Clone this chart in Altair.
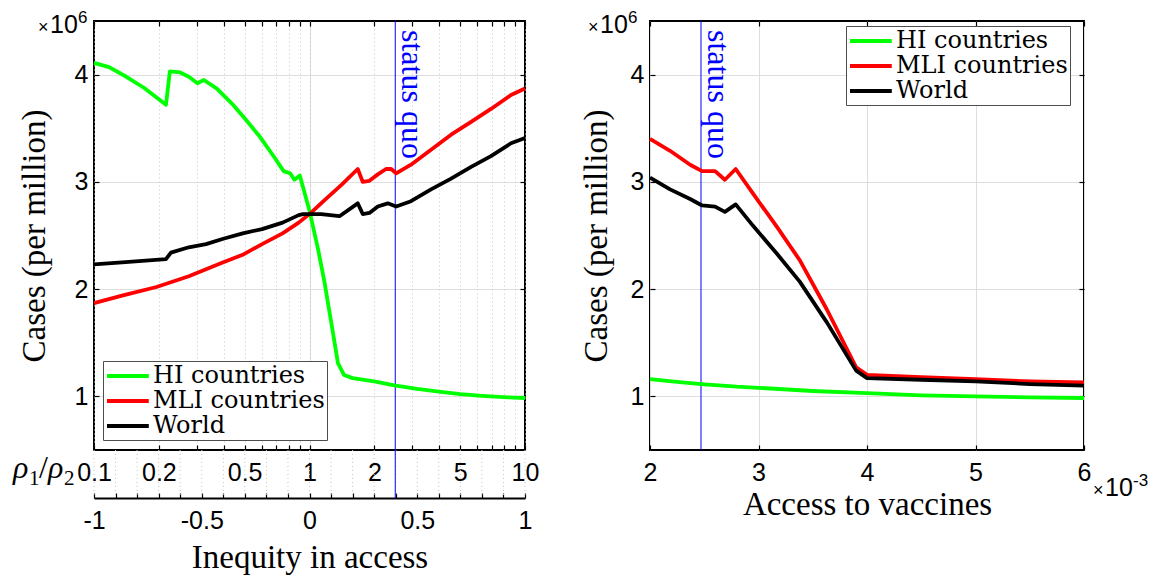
import math
import altair as alt
import pandas as pd

# ---------------- data ----------------
SERIES = ["HI countries", "MLI countries", "World"]
COLORS = ["#00ff00", "#ff0000", "#000000"]

# Left panel: x = inequity in access = log10(rho1/rho2); y = cases (x10^6 per million)
HI_INEQ = [-1.0, -0.93, -0.85, -0.77, -0.666, -0.648, -0.60, -0.56, -0.52, -0.49, -0.43, -0.36,
           -0.30, -0.23, -0.16, -0.12, -0.09, -0.07, -0.045, 0.0, 0.04, 0.07, 0.10, 0.132, 0.16,
           0.20, 0.30, 0.40, 0.50, 0.60, 0.70, 0.80, 0.90, 1.0]
HI_L = [4.11, 4.07, 3.98, 3.88, 3.72, 4.03, 4.02, 3.98, 3.92, 3.95, 3.87, 3.73,
        3.59, 3.42, 3.22, 3.10, 3.08, 3.02, 3.06, 2.73, 2.37, 2.06, 1.70, 1.31, 1.20,
        1.17, 1.14, 1.10, 1.07, 1.045, 1.02, 1.005, 0.993, 0.985]
MLI_INEQ = [-1.0, -0.87, -0.71, -0.56, -0.40, -0.31, -0.22, -0.125, -0.05, 0.0, 0.07, 0.147,
            0.224, 0.247, 0.278, 0.317, 0.355, 0.379, 0.402, 0.471, 0.564, 0.657, 0.75, 0.842,
            0.935, 1.0]
MLI_L = [1.87, 1.94, 2.02, 2.12, 2.25, 2.32, 2.42, 2.52, 2.62, 2.70, 2.83, 2.97,
         3.12, 3.00, 3.01, 3.07, 3.12, 3.12, 3.08, 3.16, 3.30, 3.44, 3.56, 3.68,
         3.81, 3.87]
WORLD_INEQ = [-1.0, -0.87, -0.666, -0.643, -0.56, -0.48, -0.40, -0.31, -0.22, -0.125, -0.05,
              -0.03, 0.054, 0.139, 0.224, 0.247, 0.278, 0.317, 0.363, 0.402, 0.471, 0.564,
              0.657, 0.75, 0.842, 0.935, 1.0]
WORLD_L = [2.23, 2.25, 2.28, 2.34, 2.39, 2.42, 2.47, 2.52, 2.56, 2.62, 2.69,
           2.70, 2.70, 2.68, 2.80, 2.70, 2.71, 2.77, 2.80, 2.77, 2.82, 2.93,
           3.03, 3.14, 3.24, 3.36, 3.41]

# Right panel: x = access to vaccines (x10^-3); y = cases (x10^6 per million)
HI_ACC = [2.0, 2.2, 2.47, 2.8, 3.0, 3.5, 4.0, 4.5, 5.0, 5.5, 6.0]
HI_R = [1.16, 1.14, 1.115, 1.09, 1.08, 1.05, 1.03, 1.01, 1.00, 0.99, 0.985]
MLI_ACC = [2.0, 2.185, 2.37, 2.48, 2.60, 2.69, 2.79, 2.95, 3.17, 3.38, 3.63, 3.90, 4.0,
           4.5, 5.0, 5.5, 6.0]
MLI_R = [3.40, 3.29, 3.16, 3.10, 3.10, 3.02, 3.12, 2.89, 2.58, 2.27, 1.81, 1.27, 1.20,
         1.18, 1.16, 1.14, 1.13]
WORLD_ACC = [2.0, 2.185, 2.37, 2.48, 2.60, 2.69, 2.79, 2.95, 3.17, 3.38, 3.63, 3.90, 4.0,
             4.5, 5.0, 5.5, 6.0]
WORLD_R = [3.04, 2.93, 2.84, 2.78, 2.77, 2.72, 2.79, 2.59, 2.33, 2.07, 1.69, 1.24, 1.17,
           1.155, 1.14, 1.115, 1.10]

STATUS_QUO_RHO = 2.5
STATUS_QUO_ACCESS = 2.47

RHO_LABELS = [0.1, 0.2, 0.5, 1, 2, 5, 10]
RHO_TICKS = [0.1, 0.2, 0.3, 0.4, 0.5, 0.6, 0.7, 0.8, 0.9, 1, 2, 3, 4, 5, 6, 7, 8, 9, 10]
INEQ_LABELS = [-1, -0.5, 0, 0.5, 1]
INEQ_TICKS = [-1, -0.9, -0.8, -0.7, -0.6, -0.5, -0.4, -0.3, -0.2, -0.1, 0,
              0.1, 0.2, 0.3, 0.4, 0.5, 0.6, 0.7, 0.8, 0.9, 1]
CASES_TICKS = [1, 2, 3, 4]
ACCESS_TICKS = [2, 3, 4, 5, 6]
CASES_DOMAIN = [0.5, 4.5]
INEQ_DOMAIN = [-1, 1]
ACCESS_DOMAIN = [2, 6]

# ---------------- styling ----------------
SANS = "Liberation Sans"
SERIF = "Liberation Serif"
LEGEND_SERIF = "DejaVu Serif"
BLACK = "#000000"
BLUE = "#0000ff"
GRID = "#dedede"
MINOR = "#c4c4c4"
TICK_FONT = 25
TITLE_FONT = 33
WL, HL, HS = 431, 429, 48
WR, HR = 434, 429
# lower end of the "inequity" strip below the left plot, in y-scale units
STRIP_BOTTOM = CASES_DOMAIN[0] - HS * (CASES_DOMAIN[1] - CASES_DOMAIN[0]) / HL


def df_of(xs_list, ys_list):
    rows = []
    for name, xs, ys in zip(SERIES, xs_list, ys_list):
        for x, y in zip(xs, ys):
            rows.append({"series": name, "x": x, "y": y})
    return pd.DataFrame(rows)


left_df = df_of([HI_INEQ, MLI_INEQ, WORLD_INEQ], [HI_L, MLI_L, WORLD_L])
right_df = df_of([HI_ACC, MLI_ACC, WORLD_ACC], [HI_R, MLI_R, WORLD_R])
one = pd.DataFrame({"k": [0]})
ineq_df = pd.DataFrame({"x": INEQ_TICKS})

sq_ineq = math.log10(STATUS_QUO_RHO)
rho_lab_pos = [math.log10(v) for v in RHO_LABELS]
rho_tick_pos = [math.log10(v) for v in RHO_TICKS]

ys = alt.Scale(domain=CASES_DOMAIN, nice=False, zero=False)
xs_l = alt.Scale(domain=INEQ_DOMAIN, nice=False, zero=False)
xs_r = alt.Scale(domain=ACCESS_DOMAIN, nice=False, zero=False)
color_scale = alt.Scale(domain=SERIES, range=COLORS)


def tick_axis(orient, offset, values, grid=False):
    kw = dict(orient=orient, offset=offset, values=values, ticks=True, tickSize=5,
              tickWidth=1.2, tickColor=BLACK, labels=False, domain=False, grid=grid, title=None)
    if grid:
        kw.update(gridDash=[1, 3], gridColor=MINOR, gridWidth=1)
    return alt.Axis(**kw)


def grid_axis(orient, values):
    return alt.Axis(orient=orient, values=values, ticks=False, labels=False, domain=False,
                    grid=True, gridColor=GRID, gridWidth=1, title=None)


def y_label_axis(title_pad):
    return alt.Axis(orient="left", values=CASES_TICKS, ticks=False, domain=False, grid=True,
                    gridColor=GRID, gridWidth=1, labelPadding=6,
                    title="Cases (per million)", titlePadding=title_pad)


def legend_at(x, y):
    return alt.Legend(orient="none", legendX=x, legendY=y, title=None,
                      labelFont=LEGEND_SERIF, labelFontSize=24, labelColor=BLACK,
                      labelLimit=500, strokeColor="#4d4d4d", fillColor="#ffffff", padding=2,
                      symbolType="M-1,0H2.8", symbolSize=484, symbolStrokeWidth=4,
                      labelOffset=22, rowPadding=0)


def note(xv, xscale, yv, text, dx, dy, size, font=SANS, color=BLACK, align="left",
         style="normal", angle=0, xaxis=None, yaxis=None):
    mk = dict(text=text, dx=dx, dy=dy, fontSize=size, font=font, color=color,
              align=align, baseline="alphabetic", fontStyle=style)
    if angle:
        mk["angle"] = angle
    return alt.Chart(one).mark_text(**mk).encode(
        x=alt.XDatum(xv, type="quantitative", scale=xscale, axis=xaxis),
        y=alt.YDatum(yv, type="quantitative", scale=ys, axis=yaxis),
    )


def lines(df, xscale, xaxis, legend, title_pad):
    return alt.Chart(df).mark_line(strokeWidth=3.8, strokeJoin="round").encode(
        x=alt.X("x:Q", scale=xscale, axis=xaxis),
        y=alt.Y("y:Q", scale=ys, axis=y_label_axis(title_pad)),
        color=alt.Color("series:N", scale=color_scale, legend=legend),
    )


def exp_label(xv, xscale, yv, base_dx, base_dy, exp_text, xaxis=None):
    return [
        note(xv, xscale, yv, "×", base_dx, base_dy, 18, xaxis=xaxis),
        note(xv, xscale, yv, "10", base_dx + 12, base_dy, 25),
        note(xv, xscale, yv, exp_text, base_dx + 40, base_dy - 10, 17),
    ]


# ---------------- left panel ----------------
rule_l = alt.Chart(one).mark_rule(color=BLUE, strokeWidth=1).encode(
    x=alt.XDatum(sq_ineq, type="quantitative", scale=xs_l,
                 axis=tick_axis("top", -HL, rho_tick_pos, grid=True)),
    y=alt.YDatum(CASES_DOMAIN[1], type="quantitative", scale=ys,
                 axis=tick_axis("right", -WL, CASES_TICKS)),
    y2=alt.Y2Datum(STRIP_BOTTOM),
)
lines_l = lines(
    left_df, xs_l,
    alt.Axis(orient="bottom", values=rho_lab_pos,
             labelExpr="toString(round(pow(10, datum.value) * 10) / 10)",
             ticks=False, domain=False, grid=False, labelPadding=10, labelFlush=False,
             title=None),
    legend_at(9, 340), 23,
)
sq_text_l = note(sq_ineq, xs_l, CASES_DOMAIN[1], "status quo", 9, -7, 32, font=SERIF,
                 color=BLUE, angle=90,
                 xaxis=tick_axis("bottom", -HL, rho_tick_pos),
                 yaxis=tick_axis("left", -WL, CASES_TICKS))
major_grid_l = note(INEQ_DOMAIN[0], xs_l, CASES_DOMAIN[1], "", 0, 0, 10,
                    xaxis=grid_axis("bottom", [0]))
# dotted guides of the inequity strip below the plot, bottom axis of the strip
strip_grid = alt.Chart(ineq_df).mark_rule(color=MINOR, strokeWidth=1, strokeDash=[1, 3]).encode(
    x=alt.X("x:Q", scale=xs_l,
            axis=alt.Axis(orient="bottom", offset=HS, values=INEQ_LABELS,
                          labelExpr="toString(datum.value)", ticks=False, domain=True,
                          domainColor=BLACK, domainWidth=2, grid=False, labelPadding=10,
                          labelFlush=False, title="Inequity in access", titlePadding=8)),
    y=alt.YDatum(CASES_DOMAIN[0], type="quantitative", scale=ys, axis=None),
    y2=alt.Y2Datum(STRIP_BOTTOM),
)
exp_l = exp_label(INEQ_DOMAIN[0], xs_l, CASES_DOMAIN[1], -56, 12, "6",
                  xaxis=tick_axis("top", -(HL + HS), INEQ_TICKS))
rho_parts = [
    note(INEQ_DOMAIN[0], xs_l, CASES_DOMAIN[0], "ρ", -81, 28, 32, font=SERIF, style="italic"),
    note(INEQ_DOMAIN[0], xs_l, CASES_DOMAIN[0], "1", -65, 35, 21, font=SERIF),
    note(INEQ_DOMAIN[0], xs_l, CASES_DOMAIN[0], "/", -55, 28, 32, font=SERIF),
    note(INEQ_DOMAIN[0], xs_l, CASES_DOMAIN[0], "ρ", -46, 28, 32, font=SERIF, style="italic"),
    note(INEQ_DOMAIN[0], xs_l, CASES_DOMAIN[0], "2", -30, 35, 21, font=SERIF),
]
left = alt.layer(major_grid_l, strip_grid, rule_l, lines_l, sq_text_l, *exp_l,
                 *rho_parts).resolve_axis(x="independent", y="independent").properties(
    width=WL, height=HL)

# ---------------- right panel ----------------
rule_r = alt.Chart(one).mark_rule(color=BLUE, strokeWidth=1).encode(
    x=alt.XDatum(STATUS_QUO_ACCESS, type="quantitative", scale=xs_r,
                 axis=tick_axis("top", -HR, ACCESS_TICKS)),
    y=alt.YDatum(CASES_DOMAIN[1], type="quantitative", scale=ys,
                 axis=tick_axis("right", -WR, CASES_TICKS)),
    y2=alt.Y2Datum(CASES_DOMAIN[0]),
)
lines_r = lines(
    right_df, xs_r,
    alt.Axis(orient="bottom", values=ACCESS_TICKS, ticks=False, domain=False, grid=True,
             gridColor=GRID, gridWidth=1, labelPadding=10, labelFlush=False,
             title="Access to vaccines", titlePadding=3),
    legend_at(196, 5), 17,
)
sq_text_r = note(STATUS_QUO_ACCESS, xs_r, CASES_DOMAIN[1], "status quo", 9, -7, 32,
                 font=SERIF, color=BLUE, angle=90,
                 xaxis=tick_axis("bottom", -HR, ACCESS_TICKS),
                 yaxis=tick_axis("left", -WR, CASES_TICKS))
exp_r6 = exp_label(ACCESS_DOMAIN[0], xs_r, CASES_DOMAIN[1], -62, 12, "6")
exp_r3 = exp_label(ACCESS_DOMAIN[1], xs_r, CASES_DOMAIN[0], 9, 46, "-3")
right = alt.layer(rule_r, lines_r, sq_text_r, *exp_r6, *exp_r3).resolve_axis(
    x="independent", y="independent").properties(width=WR, height=HR)

chart = alt.hconcat(left, right, spacing=125, bounds="flush").resolve_scale(
    x="independent", y="independent", color="independent"
).properties(
    padding={"left": 4, "top": 0, "right": 5, "bottom": 0}
).configure_view(
    stroke=BLACK, strokeWidth=2
).configure_axis(
    labelFont=SANS, labelFontSize=TICK_FONT, labelColor=BLACK,
    titleFont=SERIF, titleFontSize=TITLE_FONT, titleFontWeight="normal", titleColor=BLACK,
).configure_legend(
    labelFont=LEGEND_SERIF, labelFontSize=24, labelColor=BLACK,
)

chart.save("out.html", embed_options={"renderer": "svg", "actions": False})
